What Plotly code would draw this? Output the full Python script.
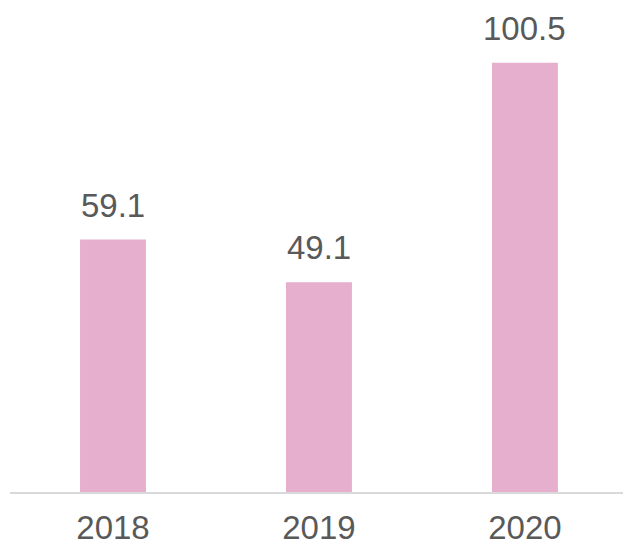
import plotly.graph_objects as go

years = ["2018", "2019", "2020"]
values = [59.1, 49.1, 100.5]
labels = ["59.1", "49.1", "100.5"]

BAR_COLOR = "#E5AFCD"
TEXT_COLOR = "#595959"
FONT = "Liberation Sans, Arial, sans-serif"

fig = go.Figure()
fig.add_trace(go.Bar(
    x=years, y=values, width=0.32,
    marker=dict(color=BAR_COLOR, line=dict(width=0)),
    hoverinfo="skip",
))

for i, (v, t) in enumerate(zip(values, labels)):
    fig.add_annotation(x=i, y=v, xref="x", yref="y", text=t, showarrow=False,
                       yanchor="bottom", yshift=14,
                       font=dict(family=FONT, size=33, color=TEXT_COLOR))

fig.update_layout(
    width=623, height=545,
    margin=dict(l=10, r=0, t=0, b=53),
    paper_bgcolor="white", plot_bgcolor="white",
    showlegend=False,
    xaxis=dict(type="category", range=[-0.5, 2.476],
               showline=True, linecolor="#D9D9D9", linewidth=2,
               showgrid=False, zeroline=False, ticks="",
               ticklabelstandoff=5,
               tickfont=dict(family=FONT, size=33, color=TEXT_COLOR)),
    yaxis=dict(range=[0, 115.2], visible=False, showgrid=False, zeroline=False),
)

fig.write_html("out.html", config={"displayModeBar": False},
               post_script="document.body.style.margin='0';")
